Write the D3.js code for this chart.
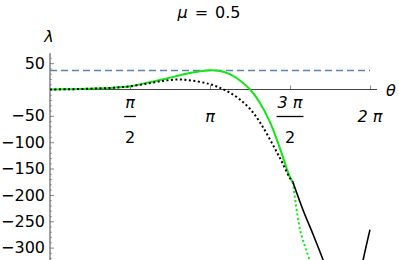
<!DOCTYPE html>
<html>
<head>
<meta charset="utf-8">
<script src="https://cdn.jsdelivr.net/npm/d3@7"></script>
<style>
  body { margin: 0; background: #fff; }
  svg { display: block; font-family: "DejaVu Sans", sans-serif; }
</style>
</head>
<body>
<svg id="chart" width="399" height="260"></svg>
<script>
// chart values
var TITLE = "μ = 0.5";
var MU_LINE = 36; // dashed horizontal level

// upper part: theta grid shared by green solid and black dotted
var THETA_UPPER = [0, 0.39, 0.79, 1.18, 1.57, 1.96, 2.26, 2.55, 2.85, 3.14, 3.34, 3.53, 3.73, 3.93, 4.12, 4.32, 4.52, 4.71, 4.77];
var GREEN_SOLID = [0, 0.5, 1.5, 3, 6, 14, 20, 27, 33, 36.5, 35, 29, 17, 0, -25, -62, -113, -166, -176];
var BLACK_DOTTED = [0, 0.5, 1.5, 3, 6, 12, 17, 19, 16, 10, 3, -6, -19, -37, -62, -95, -131, -168, -176];

// lower part, after the branches swap
var THETA_GREEN_DOTTED = [4.77, 4.91, 5.09, 5.12];
var GREEN_DOTTED = [-176, -266, -323, -340];
var THETA_BLACK_SOLID = [4.77, 4.97, 5.17, 5.36, 5.40];
var BLACK_SOLID = [-176, -229, -276, -323, -335];
var THETA_BLACK_RIGHT = [6.12, 6.15, 6.283];
var BLACK_RIGHT = [-340, -323, -266];

// ticks
var Y_TICKS = [50, -50, -100, -150, -200, -250, -300];
var X_TICKS = [Math.PI / 2, Math.PI, 3 * Math.PI / 2, 2 * Math.PI];
var X_LABELS = [["π", "2"], ["π"], ["3 π", "2"], ["2 π"]];

var WIDTH = 399, HEIGHT = 260;
var X0 = 50, X1 = 370;      // pixel of theta = 0 and 2pi
var Y_ZERO = 89.5, Y_M300 = 247.6;

var svg = d3.select("#chart");

var xScale = d3.scaleLinear().domain([0, 2 * Math.PI]).range([X0, X1]);
var yScale = d3.scaleLinear().domain([0, -300]).range([Y_ZERO, Y_M300]);

function zip(xs, ys) {
    return xs.map((x, i) => ({ t: x, v: ys[i] }));
}

function drawAxes() {
    // y axis: minor ticks every 10
    var minor = d3.range(60, -330, -10).filter(d => d % 50 != 0);
    svg.append("g")
        .attr("transform", `translate(${X0}, 0)`)
        .call(d3.axisLeft(yScale).tickValues(minor).tickSizeInner(-2).tickSizeOuter(0).tickFormat(""))
        .call(g => g.select(".domain").remove())
        .selectAll("line").attr("stroke", "#aaa");

    var yAxis = svg.append("g")
        .attr("transform", `translate(${X0}, 0)`)
        .call(d3.axisLeft(yScale).tickValues(Y_TICKS).tickSizeInner(-4).tickSizeOuter(0).tickPadding(5)
            .tickFormat(d => (d < 0 ? "\u2212" : "") + Math.abs(d)));
    yAxis.select(".domain").remove();
    yAxis.selectAll("line").attr("stroke", "#888");
    yAxis.selectAll("text")
        .attr("font-family", "DejaVu Sans")
        .attr("font-size", 16)
        .attr("fill", "#000");

    svg.append("line")
        .attr("x1", X0).attr("x2", X0)
        .attr("y1", yScale(69)).attr("y2", HEIGHT)
        .attr("stroke", "#444");

    // x axis
    var xAxis = svg.append("g")
        .attr("transform", `translate(0, ${Y_ZERO})`)
        .call(d3.axisBottom(xScale).tickValues(X_TICKS).tickSizeInner(-4).tickSizeOuter(0).tickFormat(""));
    xAxis.select(".domain").remove();
    xAxis.selectAll("line").attr("stroke", "#888");

    svg.append("line")
        .attr("x1", X0).attr("x2", 377)
        .attr("y1", Y_ZERO).attr("y2", Y_ZERO)
        .attr("stroke", "#444");

    // x tick labels, fractions drawn by hand
    X_TICKS.forEach((t, i) => {
        var lab = X_LABELS[i];
        var cx = xScale(t);
        if (lab.length == 1) {
            svg.append("text")
                .attr("x", cx).attr("y", 122)
                .attr("text-anchor", "middle")
                .attr("font-size", 16)
                .attr("font-style", "italic")
                .text(lab[0]);
        } else {
            var num = svg.append("text")
                .attr("x", cx).attr("y", 108)
                .attr("text-anchor", "middle")
                .attr("font-size", 16)
                .attr("font-style", "italic")
                .text(lab[0]);
            var w = num.node().getComputedTextLength() + 2;
            svg.append("line")
                .attr("x1", cx - w / 2).attr("x2", cx + w / 2)
                .attr("y1", 116.5).attr("y2", 116.5)
                .attr("stroke", "#000").attr("stroke-width", 1.3);
            svg.append("text")
                .attr("x", cx).attr("y", 143)
                .attr("text-anchor", "middle")
                .attr("font-size", 16)
                .text(lab[1]);
        }
    });

    // axis labels and title
    svg.append("text")
        .attr("x", 49).attr("y", 42)
        .attr("text-anchor", "middle")
        .attr("font-size", 16)
        .attr("font-style", "italic")
        .text("λ");
    svg.append("text")
        .attr("x", 386).attr("y", 96)
        .attr("font-size", 16)
        .attr("font-style", "italic")
        .text("θ");
    var title = svg.append("text")
        .attr("x", 209).attr("y", 18)
        .attr("text-anchor", "middle")
        .attr("font-size", 16);
    title.append("tspan").attr("font-style", "italic").text(TITLE.split(" ")[0]);
    title.append("tspan").attr("dx", 7).text(TITLE.split(" ")[1]);
    title.append("tspan").attr("dx", 7).text(TITLE.split(" ")[2]);
}

function drawCurves() {
    svg.append("clipPath").attr("id", "plotClip")
        .append("rect")
        .attr("x", X0).attr("y", yScale(69))
        .attr("width", 330).attr("height", HEIGHT - yScale(69));

    var line = d3.line()
        .x(d => xScale(d.t))
        .y(d => yScale(d.v))
        .curve(d3.curveCatmullRom.alpha(0.5));

    var plot = svg.append("g").attr("clip-path", "url(#plotClip)");

    plot.append("line")
        .attr("x1", xScale(0)).attr("x2", xScale(2 * Math.PI))
        .attr("y1", yScale(MU_LINE)).attr("y2", yScale(MU_LINE))
        .attr("stroke", "#5e81b5")
        .attr("stroke-width", 1.6)
        .attr("stroke-dasharray", "7,4");

    plot.append("path")
        .datum(zip(THETA_UPPER, GREEN_SOLID))
        .attr("fill", "none")
        .attr("stroke", "#11e811")
        .attr("stroke-width", 2)
        .attr("d", line);

    plot.append("path")
        .datum(zip(THETA_UPPER, BLACK_DOTTED))
        .attr("fill", "none")
        .attr("stroke", "#000")
        .attr("stroke-width", 2)
        .attr("stroke-dasharray", "2,2.5")
        .attr("d", line);

    plot.append("path")
        .datum(zip(THETA_GREEN_DOTTED, GREEN_DOTTED))
        .attr("fill", "none")
        .attr("stroke", "#11e811")
        .attr("stroke-width", 2)
        .attr("stroke-dasharray", "2,2.5")
        .attr("d", line);

    plot.append("path")
        .datum(zip(THETA_BLACK_SOLID, BLACK_SOLID))
        .attr("fill", "none")
        .attr("stroke", "#000")
        .attr("stroke-width", 1.6)
        .attr("d", line);

    plot.append("path")
        .datum(zip(THETA_BLACK_RIGHT, BLACK_RIGHT))
        .attr("fill", "none")
        .attr("stroke", "#000")
        .attr("stroke-width", 1.6)
        .attr("d", line);
}

function main() {
    drawAxes();
    drawCurves();
}

main();
</script>
</body>
</html>
